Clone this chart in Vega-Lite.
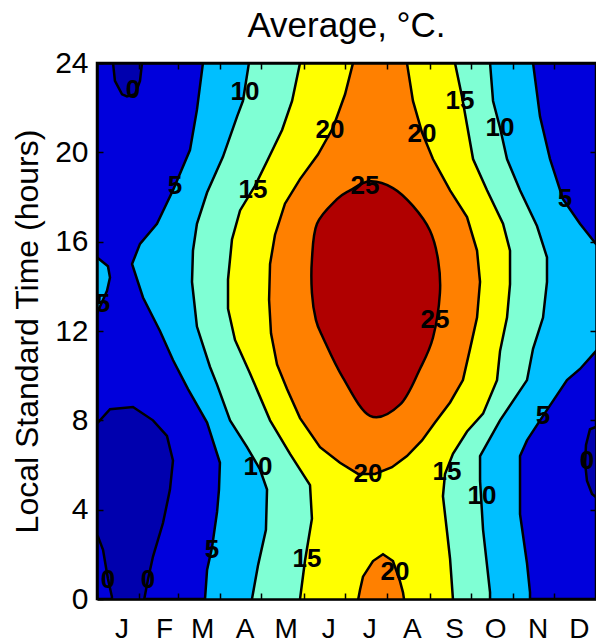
{
  "$schema": "https://vega.github.io/schema/vega-lite/v6.json",
  "width": 499,
  "height": 536,
  "autosize": {"type": "none"},
  "padding": {"left": 97, "top": 63, "right": 0, "bottom": 45},
  "title": {"text": "Average, °C.", "fontSize": 35, "font": "Liberation Sans", "fontWeight": "normal", "anchor": "middle", "offset": 4, "color": "black"},
  "config": {
    "view": {"fill": "#0000DC", "stroke": "black", "strokeWidth": 2.5},
    "axis": {"grid": false, "domainColor": "black", "domainWidth": 2.5, "tickColor": "black", "tickWidth": 1.5, "labelColor": "black", "titleColor": "black", "labelFont": "Liberation Sans", "titleFont": "Liberation Sans"}
  },
  "datasets": {
    "neg": [
      {"p": "a", "d": -3, "h": 7.9}, {"p": "a", "d": 0.7, "h": 7.9}, {"p": "a", "d": 9.5, "h": 8.5}, {"p": "a", "d": 26.3, "h": 8.6}, {"p": "a", "d": 40.9, "h": 8.0}, {"p": "a", "d": 51.1, "h": 7.3}, {"p": "a", "d": 55.5, "h": 6.2}, {"p": "a", "d": 53.3, "h": 4.9}, {"p": "a", "d": 48.2, "h": 3.4}, {"p": "a", "d": 40.9, "h": 1.9}, {"p": "a", "d": 37.3, "h": 0.9}, {"p": "a", "d": 33.6, "h": -0.3}, {"p": "a", "d": 10.9, "h": -0.3}, {"p": "a", "d": 10.9, "h": 0.1}, {"p": "a", "d": 8, "h": 0.9}, {"p": "a", "d": 4.4, "h": 2.2}, {"p": "a", "d": 0.7, "h": 2.8}, {"p": "a", "d": -3, "h": 2.8},
      {"p": "b", "d": 11.7, "h": 24.3}, {"p": "b", "d": 11.7, "h": 24}, {"p": "b", "d": 13.1, "h": 23.2}, {"p": "b", "d": 18.3, "h": 22.6}, {"p": "b", "d": 21.9, "h": 22.5}, {"p": "b", "d": 27.8, "h": 22.6}, {"p": "b", "d": 31.4, "h": 23.2}, {"p": "b", "d": 32.9, "h": 24}, {"p": "b", "d": 32.9, "h": 24.3},
      {"p": "c", "d": 368, "h": 7.8}, {"p": "c", "d": 360.1, "h": 7.6}, {"p": "c", "d": 357.2, "h": 6.9}, {"p": "c", "d": 356.5, "h": 6.1}, {"p": "c", "d": 357.9, "h": 5.3}, {"p": "c", "d": 361.6, "h": 4.7}, {"p": "c", "d": 368, "h": 4.4}
    ],
    "l5": [
      {"p": "a", "d": 77.4, "h": 24.3}, {"p": "a", "d": 77.4, "h": 24}, {"p": "a", "d": 73, "h": 21.9}, {"p": "a", "d": 67.9, "h": 20.1}, {"p": "a", "d": 55.5, "h": 18.3}, {"p": "a", "d": 43.8, "h": 16.8}, {"p": "a", "d": 31.4, "h": 15.9}, {"p": "a", "d": 25.6, "h": 15}, {"p": "a", "d": 33.6, "h": 13.5}, {"p": "a", "d": 46, "h": 12}, {"p": "a", "d": 55.5, "h": 10.7}, {"p": "a", "d": 66.5, "h": 9.4}, {"p": "a", "d": 80.4, "h": 7.9}, {"p": "a", "d": 89.8, "h": 6.1}, {"p": "a", "d": 89.1, "h": 4.9}, {"p": "a", "d": 87.7, "h": 3.9}, {"p": "a", "d": 84, "h": 2.3}, {"p": "a", "d": 80.4, "h": 1.3}, {"p": "a", "d": 78.9, "h": 0}, {"p": "a", "d": 78.9, "h": -0.3},
      {"p": "a", "d": 316.3, "h": -0.3}, {"p": "a", "d": 316.3, "h": 0.3}, {"p": "a", "d": 314.1, "h": 1.6}, {"p": "a", "d": 309, "h": 3.8}, {"p": "a", "d": 309, "h": 6.4}, {"p": "a", "d": 314.1, "h": 7.1}, {"p": "a", "d": 325.8, "h": 8.2}, {"p": "a", "d": 343.3, "h": 9.8}, {"p": "a", "d": 352.8, "h": 10.3}, {"p": "a", "d": 364.5, "h": 11.1}, {"p": "a", "d": 368, "h": 11.1}, {"p": "a", "d": 368, "h": 15.9}, {"p": "a", "d": 364.5, "h": 15.9}, {"p": "a", "d": 352.8, "h": 16.8}, {"p": "a", "d": 340.4, "h": 17.9}, {"p": "a", "d": 330.9, "h": 19.7}, {"p": "a", "d": 323.6, "h": 21.6}, {"p": "a", "d": 318.5, "h": 24}, {"p": "a", "d": 318.5, "h": 24.3},
      {"p": "b", "d": -3, "h": 15.4}, {"p": "b", "d": 0, "h": 15.3}, {"p": "b", "d": 8, "h": 14.9}, {"p": "b", "d": 9.5, "h": 14.4}, {"p": "b", "d": 7.3, "h": 13.8}, {"p": "b", "d": 3.7, "h": 13.3}, {"p": "b", "d": 0, "h": 12.8}, {"p": "b", "d": -3, "h": 12.8}
    ],
    "l10": [
      {"p": "a", "d": 111, "h": 24.3}, {"p": "a", "d": 111, "h": 24}, {"p": "a", "d": 106.6, "h": 22.3}, {"p": "a", "d": 102.3, "h": 21.6}, {"p": "a", "d": 92, "h": 19.8}, {"p": "a", "d": 80.4, "h": 18.2}, {"p": "a", "d": 73, "h": 16.8}, {"p": "a", "d": 70.1, "h": 15.6}, {"p": "a", "d": 69.4, "h": 14.2}, {"p": "a", "d": 73, "h": 12.2}, {"p": "a", "d": 82.5, "h": 10.4}, {"p": "a", "d": 87.7, "h": 9.6}, {"p": "a", "d": 97.2, "h": 8}, {"p": "a", "d": 109.6, "h": 6.8}, {"p": "a", "d": 119.1, "h": 5.8}, {"p": "a", "d": 124.2, "h": 4.9}, {"p": "a", "d": 123.4, "h": 3.1}, {"p": "a", "d": 117.6, "h": 1.5}, {"p": "a", "d": 113.2, "h": 0}, {"p": "a", "d": 113.2, "h": -0.3},
      {"p": "a", "d": 287.1, "h": -0.3}, {"p": "a", "d": 287.1, "h": 0.3}, {"p": "a", "d": 282, "h": 3.1}, {"p": "a", "d": 279.8, "h": 5.3}, {"p": "a", "d": 279.8, "h": 6.4}, {"p": "a", "d": 294.4, "h": 8}, {"p": "a", "d": 314.1, "h": 9.8}, {"p": "a", "d": 318.5, "h": 11.2}, {"p": "a", "d": 325.8, "h": 12.6}, {"p": "a", "d": 328.7, "h": 14.2}, {"p": "a", "d": 328.7, "h": 15.3}, {"p": "a", "d": 321.4, "h": 16.7}, {"p": "a", "d": 309, "h": 18.3}, {"p": "a", "d": 299.5, "h": 19.7}, {"p": "a", "d": 294.4, "h": 21.1}, {"p": "a", "d": 289.3, "h": 22.3}, {"p": "a", "d": 287.1, "h": 24}, {"p": "a", "d": 287.1, "h": 24.3}
    ],
    "l15": [
      {"p": "a", "d": 148.3, "h": 24.3}, {"p": "a", "d": 148.3, "h": 24}, {"p": "a", "d": 142.5, "h": 22.3}, {"p": "a", "d": 135.2, "h": 21}, {"p": "a", "d": 125, "h": 19.7}, {"p": "a", "d": 115.4, "h": 18.5}, {"p": "a", "d": 104.5, "h": 17.4}, {"p": "a", "d": 98.6, "h": 16.1}, {"p": "a", "d": 95.7, "h": 14.3}, {"p": "a", "d": 95.7, "h": 13}, {"p": "a", "d": 100.8, "h": 11.6}, {"p": "a", "d": 111.8, "h": 10.1}, {"p": "a", "d": 126.4, "h": 8}, {"p": "a", "d": 141, "h": 6.5}, {"p": "a", "d": 155.6, "h": 5.1}, {"p": "a", "d": 157, "h": 3.6}, {"p": "a", "d": 151.9, "h": 1.7}, {"p": "a", "d": 148.3, "h": 0}, {"p": "a", "d": 148.3, "h": -0.3},
      {"p": "a", "d": 260, "h": -0.3}, {"p": "a", "d": 260, "h": 0}, {"p": "a", "d": 257.9, "h": 1.8}, {"p": "a", "d": 255.7, "h": 3}, {"p": "a", "d": 252.7, "h": 4.6}, {"p": "a", "d": 254.2, "h": 5.6}, {"p": "a", "d": 260, "h": 6.5}, {"p": "a", "d": 270.3, "h": 7.5}, {"p": "a", "d": 282, "h": 8.3}, {"p": "a", "d": 292.2, "h": 9.8}, {"p": "a", "d": 294.4, "h": 11.1}, {"p": "a", "d": 299.5, "h": 12.6}, {"p": "a", "d": 301.7, "h": 14.1}, {"p": "a", "d": 301.7, "h": 15.6}, {"p": "a", "d": 296.6, "h": 16.8}, {"p": "a", "d": 284.9, "h": 18.3}, {"p": "a", "d": 274.7, "h": 19.7}, {"p": "a", "d": 266.6, "h": 22.5}, {"p": "a", "d": 261.5, "h": 24}, {"p": "a", "d": 261.5, "h": 24.3}
    ],
    "l20": [
      {"p": "a", "d": 187, "h": 24.3}, {"p": "a", "d": 187, "h": 24}, {"p": "a", "d": 181.2, "h": 22.6}, {"p": "a", "d": 172.4, "h": 21.1}, {"p": "a", "d": 161.4, "h": 19.9}, {"p": "a", "d": 148.3, "h": 18.8}, {"p": "a", "d": 137.3, "h": 17.7}, {"p": "a", "d": 130, "h": 16.3}, {"p": "a", "d": 126.4, "h": 15}, {"p": "a", "d": 125.7, "h": 13.4}, {"p": "a", "d": 127.1, "h": 11.9}, {"p": "a", "d": 131.5, "h": 10.5}, {"p": "a", "d": 138.8, "h": 9.4}, {"p": "a", "d": 148.3, "h": 8.1}, {"p": "a", "d": 162.9, "h": 6.8}, {"p": "a", "d": 177.5, "h": 6.1}, {"p": "a", "d": 190.7, "h": 5.6}, {"p": "a", "d": 203.1, "h": 5.6}, {"p": "a", "d": 215.5, "h": 5.9}, {"p": "a", "d": 226.4, "h": 6.4}, {"p": "a", "d": 237.4, "h": 7.1}, {"p": "a", "d": 246.9, "h": 7.9}, {"p": "a", "d": 257.9, "h": 8.8}, {"p": "a", "d": 267.3, "h": 9.8}, {"p": "a", "d": 272.5, "h": 11.2}, {"p": "a", "d": 277.6, "h": 12.6}, {"p": "a", "d": 279.8, "h": 14.2}, {"p": "a", "d": 277.6, "h": 15.6}, {"p": "a", "d": 270.3, "h": 17.1}, {"p": "a", "d": 257.9, "h": 18.3}, {"p": "a", "d": 245.4, "h": 19.7}, {"p": "a", "d": 237.4, "h": 20.9}, {"p": "a", "d": 230.8, "h": 22.3}, {"p": "a", "d": 226.4, "h": 24}, {"p": "a", "d": 226.4, "h": 24.3},
      {"p": "b", "d": 189.9, "h": -0.3}, {"p": "b", "d": 192.1, "h": 0.4}, {"p": "b", "d": 194.3, "h": 1}, {"p": "b", "d": 201.6, "h": 1.7}, {"p": "b", "d": 208.9, "h": 2.0}, {"p": "b", "d": 216.2, "h": 1.7}, {"p": "b", "d": 221.3, "h": 0.8}, {"p": "b", "d": 223.5, "h": 0.3}, {"p": "b", "d": 225, "h": -0.3}
    ],
    "l25": [
      {"p": "a", "d": 199.4, "h": 18.7}, {"p": "a", "d": 184.8, "h": 18.3}, {"p": "a", "d": 175.3, "h": 17.9}, {"p": "a", "d": 160.7, "h": 16.8}, {"p": "a", "d": 157, "h": 15.2}, {"p": "a", "d": 157, "h": 13.7}, {"p": "a", "d": 159.9, "h": 12.5}, {"p": "a", "d": 165.1, "h": 11.7}, {"p": "a", "d": 179.7, "h": 9.9}, {"p": "a", "d": 199.4, "h": 8.2}, {"p": "a", "d": 221.3, "h": 8.7}, {"p": "a", "d": 235.9, "h": 10.3}, {"p": "a", "d": 245.4, "h": 11.7}, {"p": "a", "d": 250.5, "h": 13.7}, {"p": "a", "d": 249.1, "h": 15.2}, {"p": "a", "d": 243.2, "h": 16.5}, {"p": "a", "d": 230.8, "h": 17.6}, {"p": "a", "d": 216.2, "h": 18.4}
    ],
    "labels": [
      {"d": 26.3, "h": 22.8, "t": "0"}, {"d": 108.1, "h": 22.7, "t": "10"}, {"d": 170.2, "h": 21.0, "t": "20"}, {"d": 195.8, "h": 18.5, "t": "25"}, {"d": 265.2, "h": 22.3, "t": "15"}, {"d": 237.4, "h": 20.8, "t": "20"}, {"d": 294.4, "h": 21.1, "t": "10"}, {"d": 57, "h": 18.5, "t": "5"}, {"d": 114, "h": 18.3, "t": "15"}, {"d": 341.9, "h": 17.9, "t": "5"}, {"d": 4.4, "h": 13.2, "t": "5"}, {"d": 246.9, "h": 12.5, "t": "25"}, {"d": 325.8, "h": 8.2, "t": "5"}, {"d": 117.6, "h": 5.9, "t": "10"}, {"d": 198, "h": 5.6, "t": "20"}, {"d": 255.7, "h": 5.7, "t": "15"}, {"d": 281.2, "h": 4.6, "t": "10"}, {"d": 357.9, "h": 6.2, "t": "0"}, {"d": 84, "h": 2.2, "t": "5"}, {"d": 153.4, "h": 1.8, "t": "15"}, {"d": 217.7, "h": 1.2, "t": "20"}, {"d": 8, "h": 0.85, "t": "0"}, {"d": 37.3, "h": 0.85, "t": "0"}
    ]
  },
  "resolve": {"axis": {"x": "independent", "y": "independent"}},
  "layer": [
    {
      "data": {"name": "neg"},
      "mark": {"type": "line", "fill": "#0000AE", "stroke": "black", "strokeWidth": 2.5, "interpolate": "linear-closed", "clip": true},
      "encoding": {
        "x": {"field": "d", "type": "quantitative", "scale": {"domain": [0, 364.5], "nice": false, "zero": false},
              "axis": {"orient": "top", "values": [31, 59, 90, 120, 151, 181, 212, 243, 273, 304, 334], "labels": false, "tickSize": -6, "domain": true, "title": null, "zindex": 1}},
        "y": {"field": "h", "type": "quantitative", "scale": {"domain": [0, 24], "nice": false, "zero": false},
              "axis": {"orient": "right", "values": [4, 8, 12, 16, 20], "labels": false, "tickSize": -6, "domain": true, "title": null, "zindex": 1}},
        "detail": {"field": "p"},
        "order": {"value": null}
      }
    },
    {
      "data": {"name": "l5"},
      "mark": {"type": "line", "fill": "#00BFFF", "stroke": "black", "strokeWidth": 2.5, "interpolate": "linear-closed", "clip": true},
      "encoding": {
        "x": {"field": "d", "type": "quantitative", "scale": {"domain": [0, 364.5], "nice": false, "zero": false}, "axis": null},
        "y": {"field": "h", "type": "quantitative", "scale": {"domain": [0, 24], "nice": false, "zero": false}, "axis": null},
        "detail": {"field": "p"},
        "order": {"value": null}
      }
    },
    {
      "data": {"name": "l10"},
      "mark": {"type": "line", "fill": "#7FFFD4", "stroke": "black", "strokeWidth": 2.5, "interpolate": "linear-closed", "clip": true},
      "encoding": {
        "x": {"field": "d", "type": "quantitative", "scale": {"domain": [0, 364.5], "nice": false, "zero": false}, "axis": null},
        "y": {"field": "h", "type": "quantitative", "scale": {"domain": [0, 24], "nice": false, "zero": false}, "axis": null},
        "detail": {"field": "p"},
        "order": {"value": null}
      }
    },
    {
      "data": {"name": "l15"},
      "mark": {"type": "line", "fill": "#FFFF00", "stroke": "black", "strokeWidth": 2.5, "interpolate": "linear-closed", "clip": true},
      "encoding": {
        "x": {"field": "d", "type": "quantitative", "scale": {"domain": [0, 364.5], "nice": false, "zero": false}, "axis": null},
        "y": {"field": "h", "type": "quantitative", "scale": {"domain": [0, 24], "nice": false, "zero": false}, "axis": null},
        "detail": {"field": "p"},
        "order": {"value": null}
      }
    },
    {
      "data": {"name": "l20"},
      "mark": {"type": "line", "fill": "#FF8000", "stroke": "black", "strokeWidth": 2.5, "interpolate": "linear-closed", "clip": true},
      "encoding": {
        "x": {"field": "d", "type": "quantitative", "scale": {"domain": [0, 364.5], "nice": false, "zero": false}, "axis": null},
        "y": {"field": "h", "type": "quantitative", "scale": {"domain": [0, 24], "nice": false, "zero": false}, "axis": null},
        "detail": {"field": "p"},
        "order": {"value": null}
      }
    },
    {
      "data": {"name": "l25"},
      "mark": {"type": "line", "fill": "#B00000", "stroke": "black", "strokeWidth": 2.5, "interpolate": "cardinal-closed", "clip": true},
      "encoding": {
        "x": {"field": "d", "type": "quantitative", "scale": {"domain": [0, 364.5], "nice": false, "zero": false}, "axis": null},
        "y": {"field": "h", "type": "quantitative", "scale": {"domain": [0, 24], "nice": false, "zero": false}, "axis": null},
        "detail": {"field": "p"},
        "order": {"value": null}
      }
    },
    {
      "data": {"name": "labels"},
      "mark": {"type": "text", "font": "Liberation Sans", "fontSize": 26, "fontWeight": "bold", "color": "black", "align": "center", "baseline": "middle", "clip": true},
      "encoding": {
        "x": {"field": "d", "type": "quantitative", "scale": {"domain": [0, 364.5], "nice": false, "zero": false},
              "axis": {"orient": "bottom", "values": [0, 31, 59, 90, 120, 151, 181, 212, 243, 273, 304, 334],
                       "labelExpr": "datum.value < 15 ? 'J' : datum.value < 45 ? 'F' : datum.value < 70 ? 'M' : datum.value < 100 ? 'A' : datum.value < 135 ? 'M' : datum.value < 165 ? 'J' : datum.value < 195 ? 'J' : datum.value < 225 ? 'A' : datum.value < 255 ? 'S' : datum.value < 290 ? 'O' : datum.value < 320 ? 'N' : 'D'",
                       "labelOffset": 24.5, "labelFlush": false, "labelOverlap": false, "labelBound": false, "labelPadding": 22, "labelFontSize": 28, "tickSize": -6, "domain": true, "title": null, "zindex": 1}},
        "y": {"field": "h", "type": "quantitative", "scale": {"domain": [0, 24], "nice": false, "zero": false},
              "axis": {"orient": "left", "values": [0, 4, 8, 12, 16, 20, 24], "labelFlush": false, "labelOverlap": false, "labelPadding": 15, "labelFontSize": 30, "tickSize": -6, "domain": true,
                       "title": "Local Standard Time (hours)", "titleFontSize": 32, "titleFontWeight": "normal", "titlePadding": 10, "zindex": 1}},
        "text": {"field": "t"}
      }
    }
  ]
}
